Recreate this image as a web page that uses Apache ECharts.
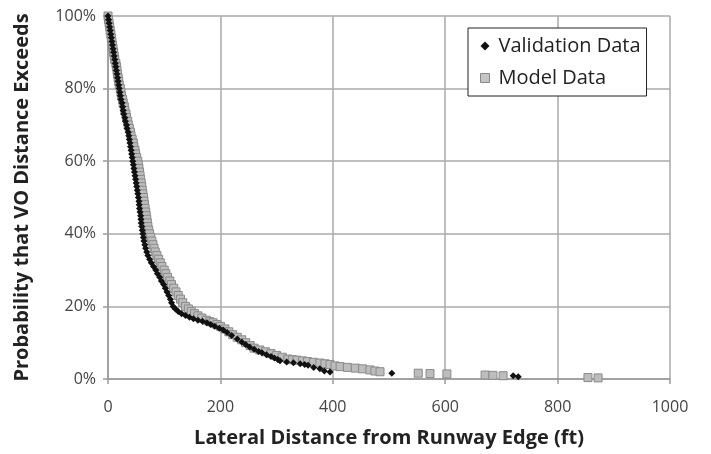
<!DOCTYPE html>
<html>
<head>
<meta charset="utf-8">
<script src="https://cdn.jsdelivr.net/npm/echarts@6/dist/echarts.min.js"></script>
<style>
  html, body { margin: 0; padding: 0; background: #fff; }
  #chart { width: 711px; height: 454px; }
</style>
</head>
<body>
<div id="chart"></div>
<script>
// Exceedance probability vs. lateral distance from the runway edge.
// Each pair is [distance in ft, probability in %].
const validationData = [
  [0,100],[1,99],[2,98],[3,97],[4,96],[5,95],[6,94],[7,93],[8,92],[9,91],
  [10,90],[11,89],[12,88],[13,87],[14,86],[15,85],[16,84],[17,83],[18,82],[19,81],
  [20,80],[21,79],[22,78],[23,77],[25,76],[26,75],[27,74],[28,73],[30,72],[31,71],
  [33,70],[34,69],[36,68],[37,67],[38,66],[39,65],[40,64],[41,63],[42,62],[43,61],
  [44,60],[45,59],[46,58],[47,57],[48,56],[49,55],[50,54],[51,53],[52,52],[53,51],
  [54,50],[55,49],[55.5,48],[56,47],[57,46],[58,45],[58.5,44],[59,43],[60,42],[61,41],
  [62,40],[63,39],[64,38],[65.5,37],[67,36],[69,35],[71,34],[74,33],[77,32],[81,31],
  [85,30],[88,29],[92,28],[95,27],[99,26],[102,25],[105,24],[108,23],[111,22],[113,21],
  [116,20],[120,19.3],[125,18.6],[131,18],[138,17.5],[145,17],[152,16.6],[160,16.2],
  [168,15.9],[176,15.5],[183,15],[190,14.5],[198,14],[205,13.5],[212,12.8],[220,12],
  [230,11],[238,10.2],[245,9.5],[252,8.8],[260,8.2],[268,7.6],[274,7.2],[282,6.7],
  [290,6.2],[296,5.8],[302,5.4],[306,5],[318,4.7],[330,4.5],[342,4.2],[350,4],
  [356,3.8],[366,3.2],[377,2.8],[385,2.2],[395,1.9],[505,1.6],[721,0.9],[730,0.6]
];
const modelData = [
  [0,100],[1,99],[2,98],[3,97],[4,96],[5,95],[6,94],[7,93],[8,92],[9,91],
  [10,90],[11,89],[12,88],[14,87],[15,86],[16,85],[17,84],[18,83],[19,82],[20,81],
  [22,80],[23,79],[24,78],[26,77],[27,76],[29,75],[30,74],[32,73],[33,72],[35,71],
  [36,70],[38,69],[40,68],[41,67],[43,66],[45,65],[46,64],[48,63],[49,62],[51,61],
  [53,60],[54,59],[55,58],[56,57],[57,56],[58,55],[59,54],[60,53],[61,52],[62,51],
  [63,50],[64,49],[65,48],[66,47],[67,46],[68,45],[69,44],[70,43],[71,42],[72.5,41],
  [74,40],[76,39],[78,38],[80,37],[82,36],[84,35],[87,34],[90,33],[93,32],[96,31],
  [100,30],[103,29],[106,28],[110,27],[113,26],[117,25],[121,24],[125,23],[129,22],[133,21],
  [138,20],[143,19.3],[148,18.6],[154,18],[160,17.4],[167,16.8],[175,16.2],[181,15.8],
  [187,15.5],[194,15],[200,14.5],[208,13.8],[215,13],[222,12.2],[230,11.5],[238,10.8],
  [245,10],[253,9.2],[260,8.5],[270,8],[280,7.5],[290,7],[300,6.5],[310,6],
  [320,5.5],[328,5.3],[336,5.2],[346,5],[355,4.8],[366,4.6],[377,4.4],[386,4.2],
  [395,4],[404,3.6],[413,3.4],[426,3.2],[440,3],[453,2.8],[466,2.5],[475,2.2],
  [484,2],[552,1.6],[573,1.5],[603,1.4],[671,1.1],[685,1],[703,0.9],[854,0.4],[872,0.3]
];
const xTicks = { min: 0, max: 1000, step: 200 };
const yTicks = { min: 0, max: 100, step: 20 };

const textFont = '"Open Sans", Lato, sans-serif';
const chart = echarts.init(document.getElementById('chart'));

chart.setOption({
  animation: false,
  backgroundColor: '#fff',
  grid: { left: 108, right: 41, top: 16, bottom: 75 },
  legend: {
    orient: 'vertical',
    left: 468,
    top: 28,
    padding: [6, 6, 6, 12],
    itemGap: 8,
    itemWidth: 9,
    itemHeight: 9,
    backgroundColor: '#fff',
    borderColor: '#222',
    borderWidth: 1,
    borderRadius: 0,
    textStyle: { fontFamily: textFont, fontSize: 20, color: '#222', padding: [0, 0, 0, 4], lineHeight: 24 },
    data: [
      { name: 'Validation Data', icon: 'diamond', itemStyle: { color: '#111' } },
      { name: 'Model Data', icon: 'rect', itemStyle: { color: '#c4c4c4', borderColor: '#888', borderWidth: 1 } }
    ]
  },
  xAxis: {
    type: 'value',
    min: xTicks.min, max: xTicks.max, interval: xTicks.step,
    name: 'Lateral Distance from Runway Edge (ft)',
    nameLocation: 'middle',
    nameGap: 49,
    nameTextStyle: { fontFamily: textFont, fontSize: 20, fontWeight: 'bold', color: '#222' },
    axisLine: { show: true, lineStyle: { color: '#999', width: 1.5 } },
    axisTick: { show: true, length: 5, lineStyle: { color: '#999', width: 1.5 } },
    axisLabel: { fontFamily: textFont, fontSize: 16, color: '#444', margin: 20, formatter: v => String(v) },
    splitLine: { show: true, lineStyle: { color: '#aaa', width: 1.5 } }
  },
  yAxis: {
    type: 'value',
    min: yTicks.min, max: yTicks.max, interval: yTicks.step,
    name: 'Probability that VO Distance Exceeds',
    nameLocation: 'middle',
    nameGap: 76,
    nameTextStyle: { fontFamily: textFont, fontSize: 20, fontWeight: 'bold', color: '#222' },
    axisLine: { show: true, lineStyle: { color: '#999', width: 1.5 } },
    axisTick: { show: true, length: 5, lineStyle: { color: '#999', width: 1.5 } },
    axisLabel: { fontFamily: textFont, fontSize: 16, color: '#444', margin: 12, formatter: '{value}%' },
    splitLine: { show: true, lineStyle: { color: '#aaa', width: 1.5 } }
  },
  series: [
    {
      name: 'Model Data',
      type: 'scatter',
      symbol: 'rect',
      symbolSize: 8,
      itemStyle: { color: '#bdbdbd', borderColor: '#8a8a8a', borderWidth: 1, opacity: 1 },
      data: modelData,
      z: 2
    },
    {
      name: 'Validation Data',
      type: 'scatter',
      symbol: 'diamond',
      symbolSize: 7,
      itemStyle: { color: '#111', opacity: 1 },
      data: validationData,
      z: 3
    }
  ]
});
</script>
</body>
</html>
